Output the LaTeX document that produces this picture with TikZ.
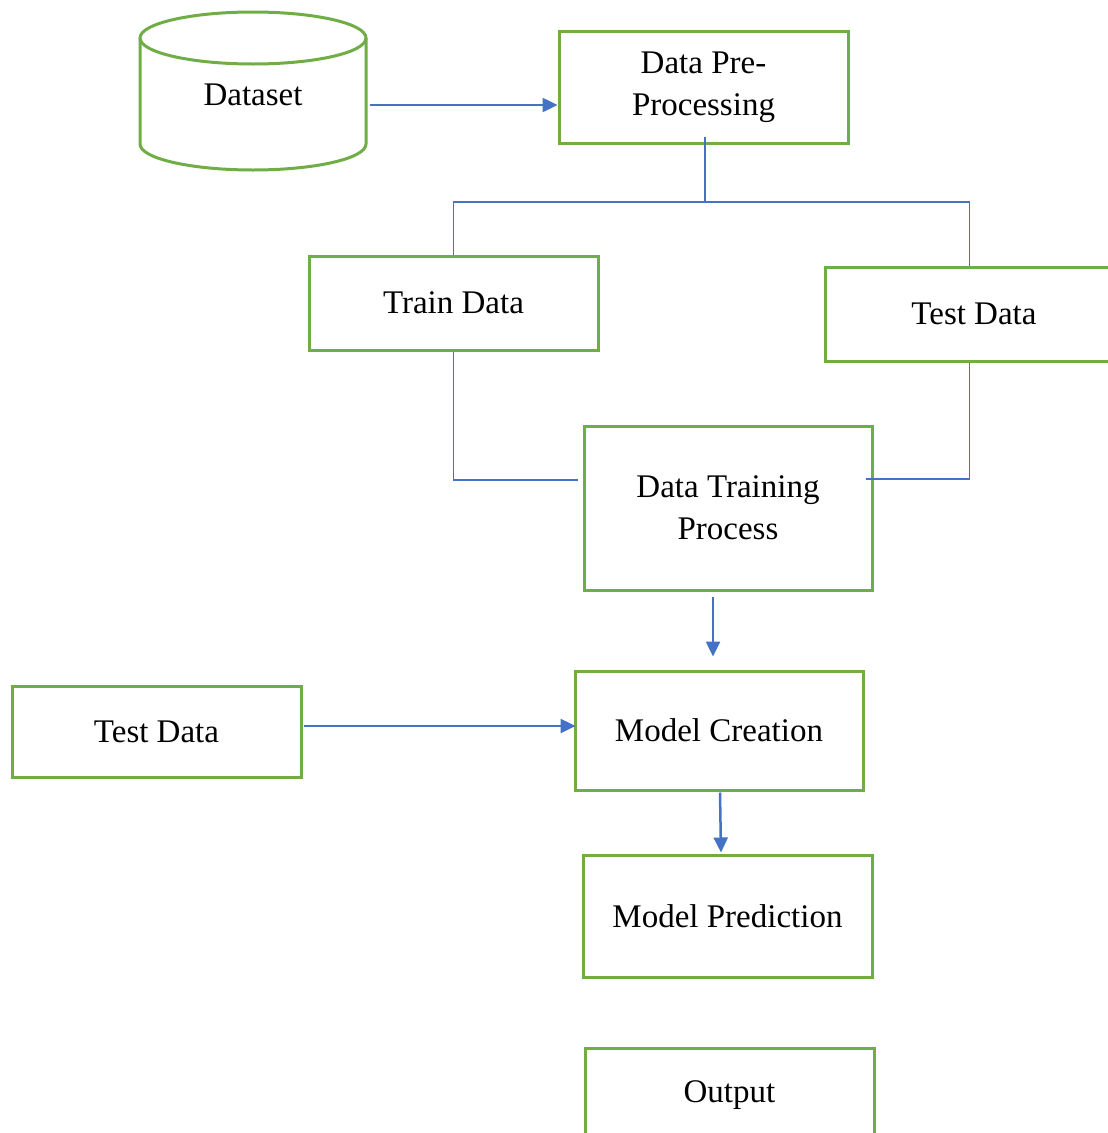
\documentclass[tikz,border=0pt]{standalone}
\usepackage{fontspec}
\setmainfont{Liberation Serif}
\usetikzlibrary{arrows.meta}
\definecolor{boxgreen}{HTML}{70AD47}
\definecolor{linkblue}{HTML}{4472C4}
\tikzset{
  stepbox/.style={draw=boxgreen, line width=3pt, rectangle, inner sep=0pt, align=center,
    font=\fontsize{33}{42}\selectfont},
  link/.style={draw=linkblue, line width=1.5pt},
  flow/.style={draw=linkblue, line width=2.5pt, -{Triangle[length=15pt,width=14pt,fill=linkblue]}}
}
\begin{document}
\begin{tikzpicture}[x=1pt,y=-1pt]
\useasboundingbox (0,0) rectangle (1108,1133);
\clip (0,0) rectangle (1108,1133);
% Dataset cylinder
\draw[boxgreen, line width=3pt] (253,38) ellipse [x radius=113, y radius=26];
\draw[boxgreen, line width=3pt] (140,38) -- (140,144) arc[start angle=180, end angle=0, x radius=113, y radius=26] -- (366,38);
\node[font=\fontsize{33}{42}\selectfont, minimum width=226pt, inner sep=0pt] (dataset) at (253,95) {Dataset};

\node[stepbox, minimum width=289pt, minimum height=112pt] (pre) at (703.5,87) {Data Pre-\\Processing};
\node[stepbox, minimum width=289pt, minimum height=94pt] (train) at (453.5,303) {Train Data};
\node[stepbox, minimum width=289pt, minimum height=94pt] (testR) at (969.5,314) {\hspace*{9pt}Test Data};
\node[stepbox, minimum width=288pt, minimum height=164pt] (dtp) at (728,508) {Data Training\\Process};
\node[stepbox, minimum width=288pt, minimum height=119pt] (mc) at (719,730.5) {Model Creation};
\node[stepbox, minimum width=289pt, minimum height=91pt] (testL) at (156.5,731.5) {Test Data};
\node[stepbox, minimum width=289pt, minimum height=122pt] (mp) at (727.5,916) {Model Prediction};
\node[stepbox, minimum width=289pt, minimum height=94pt] (out) at (729.5,1095) {Output};

% split connectors
\coordinate (j) at (705,202);
\coordinate (c1) at (578,480);
\coordinate (c2) at (866,479);
\draw[link] ([shift={(1.5,-8)}]pre.south) -- (j) -| (train.north);
\draw[link] (j) -| (testR.north);
\draw[link] (train.south) |- (c1);
\draw[link] (testR.south) |- (c2);

% arrows
\draw[flow] ([shift={(4,10)}]dataset.east) -- ([shift={(0,18)}]pre.west);
\draw[flow] ([shift={(-15,5)}]dtp.south) -- ([shift={(-6,-13)}]mc.north);
\draw[flow] ([shift={(1,-5.5)}]testL.east) -- ([shift={(2,-4.5)}]mc.west);
\draw[flow] ([shift={(1,1)}]mc.south) -- ([shift={(-6.5,-1)}]mp.north);
\end{tikzpicture}
\end{document}
